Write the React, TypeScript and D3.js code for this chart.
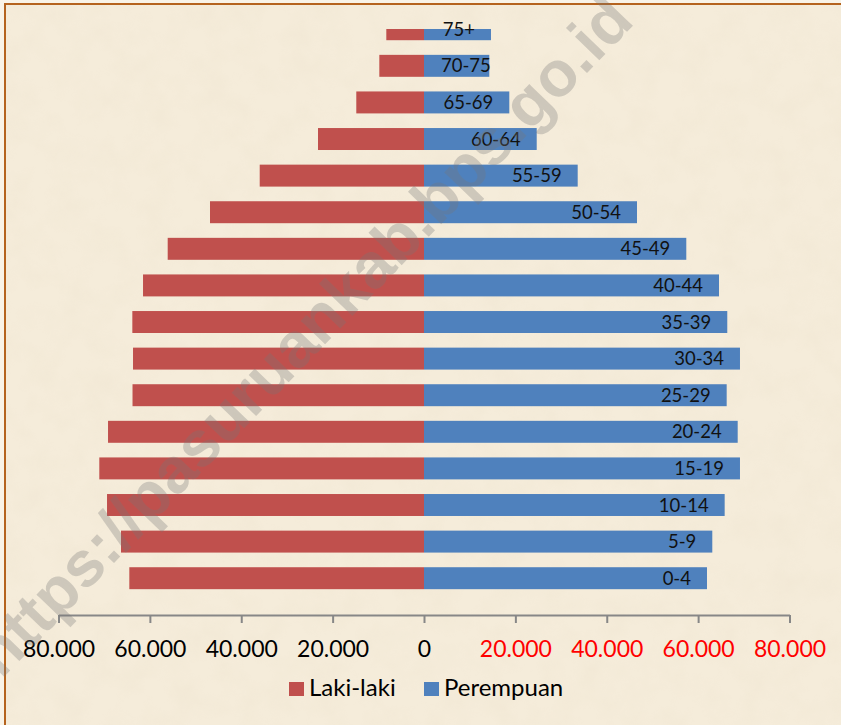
import { useEffect, useRef } from 'react';
import * as d3 from 'd3';

const ageGroups = ['75+', '70-75', '65-69', '60-64', '55-59', '50-54', '45-49', '40-44', '35-39', '30-34', '25-29', '20-24', '15-19', '10-14', '5-9', '0-4'];
const lakiLaki = [8250, 9780, 14820, 23200, 35960, 46840, 56100, 61500, 63840, 63690, 63800, 69160, 71070, 69380, 66320, 64500];
const perempuan = [14660, 14290, 18670, 24670, 33640, 46620, 57410, 64570, 66380, 69160, 66250, 68660, 69160, 65810, 63100, 61940];
const xTicks = [-80000, -60000, -40000, -20000, 0, 20000, 40000, 60000, 80000];
const legendLabels = ['Laki-laki', 'Perempuan'];
const watermark = 'https://pasuruankab.bps.go.id';

const RED = '#c0504d';
const BLUE = '#4f81bd';

export default function App() {
  const svgRef = useRef<SVGSVGElement>(null);

  useEffect(() => {
    if (!svgRef.current) return;
    const width = 841;
    const height = 725;
    const svg = d3.select(svgRef.current);
    svg.selectAll('*').remove();
    svg.attr('width', width).attr('height', height);

    const defs = svg.append('defs');
    const paper = defs.append('filter').attr('id', 'paper').attr('x', 0).attr('y', 0).attr('width', '100%').attr('height', '100%');
    paper.append('feTurbulence').attr('type', 'fractalNoise').attr('baseFrequency', 0.035).attr('numOctaves', 4).attr('seed', 7);
    paper.append('feColorMatrix').attr('type', 'matrix')
      .attr('values', '0 0 0 0 0.66  0 0 0 0 0.56  0 0 0 0 0.40  0.8 0 0 0 -0.3');
    defs.append('clipPath').attr('id', 'plot-clip')
      .append('rect').attr('x', 0).attr('y', 29).attr('width', width).attr('height', 600);

    // background + frame
    svg.append('rect').attr('width', width).attr('height', height).attr('fill', '#f9f3e7');
    svg.append('rect').attr('x', 5).attr('y', 4).attr('width', width).attr('height', height).attr('fill', '#f5ecda');
    svg.append('rect').attr('x', 5).attr('y', 4).attr('width', width).attr('height', height)
      .attr('filter', 'url(#paper)').attr('opacity', 0.18);
    svg.append('rect').attr('x', 5).attr('y', 4).attr('width', width + 10).attr('height', height + 10)
      .attr('fill', 'none').attr('stroke', '#b5631e').attr('stroke-width', 2);

    const x = d3.scaleLinear().domain([-80000, 80000]).range([58.5, 789.5]);
    const y = d3.scaleBand().domain(ageGroups).range([10.93, 596.5]).paddingInner(0.4).paddingOuter(0.2);
    const bw = y.bandwidth();

    const bars = svg.append('g').attr('clip-path', 'url(#plot-clip)');
    bars.selectAll('rect.laki')
      .data(ageGroups)
      .join('rect')
      .attr('class', 'laki')
      .attr('x', (_, i) => x(-lakiLaki[i]))
      .attr('y', (d) => y(d) ?? 0)
      .attr('width', (_, i) => x(0) - x(-lakiLaki[i]))
      .attr('height', bw)
      .attr('fill', RED);
    bars.selectAll('rect.perempuan')
      .data(ageGroups)
      .join('rect')
      .attr('class', 'perempuan')
      .attr('x', x(0))
      .attr('y', (d) => y(d) ?? 0)
      .attr('width', (_, i) => x(perempuan[i]) - x(0))
      .attr('height', bw)
      .attr('fill', BLUE);

    // category labels at inside end of the Perempuan bars
    const labels = svg.append('g')
      .style('font-family', 'Lato, "Open Sans", sans-serif')
      .style('font-size', '18.5px');
    labels.selectAll('text')
      .data(ageGroups)
      .join('text')
      .attr('x', (_, i) => x(perempuan[i]) - 16)
      .attr('y', (d) => (y(d) ?? 0) + bw / 2)
      .attr('dy', '0.36em')
      .attr('text-anchor', 'end')
      .attr('fill', '#111')
      .text((d) => d)
      .each(function () {
        const node = this as SVGTextElement;
        const box = node.getBBox();
        if (box.x < x(0) + 17) {
          d3.select(node).attr('text-anchor', 'start').attr('x', x(0) + 17);
        }
      });

    // axis
    const fmt = (v: number) => d3.format(',')(Math.abs(v)).replace(/,/g, '.');
    const axis = svg.append('g')
      .attr('transform', 'translate(0,615)')
      .call(d3.axisBottom(x).tickValues(xTicks).tickSize(8).tickSizeOuter(0).tickFormat((d) => fmt(d as number)));
    axis.select('.domain').attr('stroke', '#878787').attr('stroke-width', 2);
    axis.selectAll('.tick line').attr('stroke', '#878787').attr('stroke-width', 2);
    axis.selectAll<SVGTextElement, number>('.tick text')
      .attr('y', 42)
      .attr('dy', null)
      .attr('fill', (d) => (d > 0 ? '#ff0000' : '#000'))
      .style('font-family', 'Lato, "Open Sans", sans-serif')
      .style('font-size', '23px');

    // legend
    const legendX = [289, 424];
    const legend = svg.append('g')
      .style('font-family', 'Lato, "Open Sans", sans-serif')
      .style('font-size', '24px');
    legendLabels.forEach((label, i) => {
      legend.append('rect').attr('x', legendX[i]).attr('y', 682).attr('width', 15).attr('height', 14)
        .attr('fill', i === 0 ? RED : BLUE);
      legend.append('text').attr('x', legendX[i] + 20).attr('y', 695.5).attr('fill', '#000').text(label);
    });

    // watermark
    svg.append('text')
      .attr('transform', 'translate(1,680) rotate(-46)')
      .attr('fill', '#777')
      .attr('opacity', 0.3)
      .style('font-family', '"Liberation Sans", Arial, sans-serif')
      .style('font-weight', 'bold')
      .style('font-size', '64px')
      .text(watermark);
  }, []);

  return (
    <div style={{ position: 'absolute', left: 0, top: 0 }}>
      <svg ref={svgRef} style={{ display: 'block' }} />
    </div>
  );
}
